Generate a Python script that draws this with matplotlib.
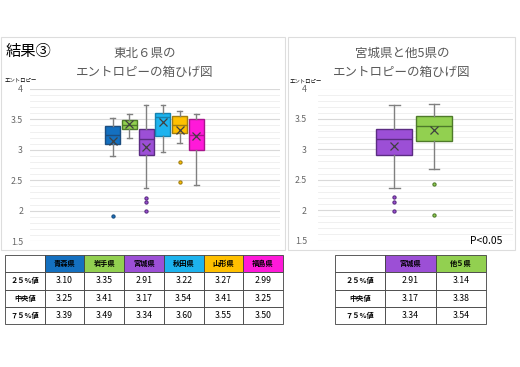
import matplotlib
matplotlib.use("Agg")
import matplotlib.pyplot as plt
from matplotlib.patches import Rectangle
from matplotlib.ticker import MultipleLocator

plt.rcParams['font.family'] = ['Noto Sans CJK JP', 'DejaVu Sans']

# ---------------- data ----------------
prefs = ["青森県", "岩手県", "宮城県", "秋田県", "山形県", "福島県"]
q1 = [3.10, 3.35, 2.91, 3.22, 3.27, 2.99]
med = [3.25, 3.41, 3.17, 3.54, 3.41, 3.25]
q3 = [3.39, 3.49, 3.34, 3.60, 3.55, 3.50]
whis_lo = [2.89, 3.19, 2.37, 2.96, 3.12, 2.42]
whis_hi = [3.52, 3.59, 3.73, 3.74, 3.63, 3.59]
means = [3.15, 3.42, 3.05, 3.45, 3.33, 3.22]
fliers = [[1.91], [], [2.21, 2.14, 1.99], [], [2.80, 2.47], []]

groups2 = ["宮城県", "他５県"]
q1_2 = [2.91, 3.14]
med_2 = [3.17, 3.38]
q3_2 = [3.34, 3.54]
whis_lo_2 = [2.37, 2.67]
whis_hi_2 = [3.73, 3.75]
means_2 = [3.05, 3.31]
fliers_2 = [[2.21, 2.14, 1.99], [2.43, 1.92]]

row_labels = ["２５%値", "中央値", "７５%値"]
table_fmt = "{:.2f}"

face = ['#1470C0', '#92D050', '#9C4FD6', '#1DB3EE', '#FFC000', '#FF19D9']
edge = ['#1C4E80', '#4E7A2A', '#5B2C82', '#1582B0', '#A07D10', '#A8158C']
face2 = ['#9C4FD6', '#92D050']
edge2 = ['#5B2C82', '#4E7A2A']

W, H = 520, 367
fig = plt.figure(figsize=(W / 100, H / 100), dpi=100)
fig.patch.set_facecolor('white')


def rect(x0, y0, x1, y1):
    return [x0 / W, 1 - y1 / H, (x1 - x0) / W, (y1 - y0) / H]


# panel frames
for (x0, y0, x1, y1) in [(1, 37, 285, 250), (288, 37, 515, 250)]:
    fig.add_artist(Rectangle((x0 / W, 1 - y1 / H), (x1 - x0) / W, (y1 - y0) / H,
                             transform=fig.transFigure, fill=False,
                             edgecolor='#DDDDDD', lw=0.8))


def style_axes(ax, pad):
    ax.set_ylim(1.5, 4)
    ax.set_xlim(0, 1)
    ax.yaxis.set_major_locator(MultipleLocator(0.5))
    ax.yaxis.set_minor_locator(MultipleLocator(0.1))
    ax.grid(which='major', axis='y', color='#D9D9D9', lw=0.8)
    ax.grid(which='minor', axis='y', color='#EEEEEE', lw=0.6)
    ax.set_axisbelow(True)
    for s in ax.spines.values():
        s.set_visible(False)
    ax.tick_params(axis='y', which='both', length=0, labelsize=6.3,
                   labelcolor='#666666', pad=pad)
    ax.tick_params(axis='x', which='both', length=0, labelbottom=False)
    ax.yaxis.set_major_formatter(matplotlib.ticker.FuncFormatter(
        lambda v, p: ('%g' % v)))


def draw_boxes(ax, positions, width, q1s, meds, q3s, los, his, mns, fls, fcs, ecs):
    stats = []
    for i in range(len(q1s)):
        stats.append(dict(q1=q1s[i], med=meds[i], q3=q3s[i], whislo=los[i],
                          whishi=his[i], mean=mns[i], fliers=fls[i]))
    for i, st in enumerate(stats):
        ax.bxp([st], positions=[positions[i]], widths=width,
               capwidths=width * 0.3, patch_artist=True, showmeans=True,
               manage_ticks=False,
               boxprops=dict(facecolor=fcs[i], edgecolor=ecs[i], lw=1.0),
               medianprops=dict(color=ecs[i], lw=1.0),
               whiskerprops=dict(color='#808080', lw=1.0),
               capprops=dict(color='#808080', lw=1.0),
               meanprops=dict(marker='x', markeredgecolor='#404040',
                              markersize=6, markeredgewidth=0.9),
               flierprops=dict(marker='o', markersize=2.3,
                               markerfacecolor=fcs[i], markeredgecolor=ecs[i],
                               markeredgewidth=0.8))


# ---------------- left chart ----------------
ax1 = fig.add_axes(rect(30, 89, 280, 241))
style_axes(ax1, pad=5)
pos1 = [0.33 + 0.067 * i for i in range(6)]
draw_boxes(ax1, pos1, 0.06, q1, med, q3, whis_lo, whis_hi, means, fliers, face, edge)

fig.text(6 / W, 1 - 51 / H, "結果③", fontsize=11, color='black', va='center', ha='left')
fig.text(145 / W, 1 - 53 / H, "東北６県の", fontsize=9, color='#595959', ha='center', va='center')
fig.text(145 / W, 1 - 72 / H, "エントロピーの箱ひげ図", fontsize=9, color='#595959', ha='center', va='center')
fig.text(5 / W, 1 - 80.5 / H, "エントロピー", fontsize=3.9, color='black', ha='left', va='center')

# ---------------- right chart ----------------
ax2 = fig.add_axes(rect(318, 88.5, 513, 240.5))
style_axes(ax2, pad=8)
pos2 = [0.391, 0.595]
draw_boxes(ax2, pos2, 0.185, q1_2, med_2, q3_2, whis_lo_2, whis_hi_2, means_2, fliers_2, face2, edge2)

fig.text(402 / W, 1 - 53 / H, "宮城県と他5県の", fontsize=9, color='#595959', ha='center', va='center')
fig.text(402 / W, 1 - 72 / H, "エントロピーの箱ひげ図", fontsize=9, color='#595959', ha='center', va='center')
fig.text(290 / W, 1 - 81.5 / H, "エントロピー", fontsize=3.9, color='black', ha='left', va='center')
fig.text(486 / W, 1 - 241 / H, "P<0.05", fontsize=7.5, color='black', ha='center', va='center')


# ---------------- tables ----------------
def draw_table(x0, y0, x1, y1, headers, hcolors, cols):
    ax = fig.add_axes(rect(x0, y0, x1, y1))
    ax.axis('off')
    cell_text = [[""] + headers]
    colors = [['white'] + hcolors]
    for r, lab in enumerate(row_labels):
        cell_text.append([lab] + [table_fmt.format(c[r]) for c in cols])
        colors.append(['white'] * (len(headers) + 1))
    tb = ax.table(cellText=cell_text, cellColours=colors, bbox=[0, 0, 1, 1],
                  cellLoc='center')
    tb.auto_set_font_size(False)
    for (r, c), cell in tb.get_celld().items():
        cell.set_edgecolor('#404040')
        cell.set_linewidth(0.6)
        t = cell.get_text()
        if r == 0 or c == 0:
            t.set_fontsize(5.2)
            t.set_fontweight('bold')
        else:
            t.set_fontsize(6.3)
        t.set_color('black')
    return tb


cols1 = [[q1[i], med[i], q3[i]] for i in range(6)]
draw_table(5, 255, 283, 324, prefs, face, cols1)
cols2 = [[q1_2[i], med_2[i], q3_2[i]] for i in range(2)]
draw_table(335, 255, 486, 324, groups2, face2, cols2)

fig.savefig("out.png", dpi=100)
